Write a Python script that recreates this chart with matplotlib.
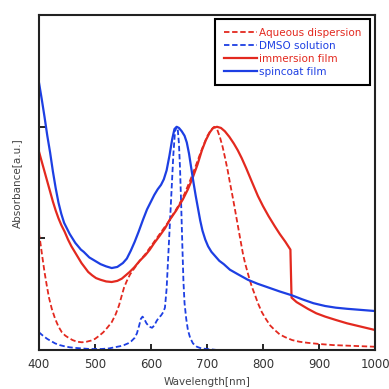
import numpy as np
import matplotlib.pyplot as plt

RED = '#e3291f'
BLUE = '#1d3fe3'

# aqueous dispersion (red dashed)
aq_wl = [400, 403, 406, 410, 414, 418, 423, 429, 435, 441, 447, 453, 460, 468, 477,
         485, 493, 500, 508, 515, 522, 530, 537, 543, 548, 552, 557, 563, 570, 580,
         590, 600, 610, 620, 630, 640, 650, 660, 670, 680, 688, 695, 701, 707, 713,
         718, 723, 728, 732, 737, 741, 746, 750, 755, 760, 764, 768, 774, 780, 786,
         791, 798, 805, 813, 821, 830, 840, 852, 865, 880, 900, 925, 950, 975, 1000]
aq_abs = [1.05, 0.95, 0.84, 0.70, 0.58, 0.47, 0.37, 0.28, 0.21, 0.16, 0.13, 0.11,
          0.09, 0.075, 0.07, 0.075, 0.085, 0.10, 0.13, 0.16, 0.20, 0.25, 0.32, 0.40,
          0.49, 0.56, 0.62, 0.68, 0.73, 0.80, 0.86, 0.93, 1.00, 1.07, 1.14, 1.22,
          1.30, 1.40, 1.52, 1.65, 1.76, 1.85, 1.92, 1.97, 2.00, 1.98, 1.91, 1.82,
          1.73, 1.61, 1.50, 1.37, 1.26, 1.12, 0.98, 0.87, 0.78, 0.67, 0.57, 0.49,
          0.42, 0.34, 0.28, 0.22, 0.18, 0.14, 0.115, 0.09, 0.075, 0.065, 0.055,
          0.045, 0.04, 0.035, 0.03]

# DMSO solution (blue dashed)
dmso_wl = [400, 407, 415, 422, 429, 437, 445, 455, 464, 477, 490, 512, 525, 535, 545,
           552, 559, 565, 571, 575, 579, 582, 585, 588, 592, 597, 602, 606, 610, 614,
           618, 622, 625, 628, 631, 634, 637, 640, 643, 646, 648, 650, 652, 654, 656,
           658, 660, 663, 666, 670, 675, 682, 690, 700, 720, 1000]
dmso_abs = [0.16, 0.13, 0.10, 0.08, 0.06, 0.045, 0.035, 0.025, 0.02, 0.015, 0.01,
            0.01, 0.015, 0.025, 0.035, 0.045, 0.06, 0.08, 0.11, 0.15, 0.22, 0.28,
            0.30, 0.28, 0.24, 0.21, 0.20, 0.22, 0.26, 0.29, 0.31, 0.34, 0.38, 0.55,
            0.85, 1.15, 1.45, 1.75, 1.96, 2.00, 1.97, 1.85, 1.62, 1.30, 0.95, 0.62,
            0.42, 0.28, 0.18, 0.11, 0.06, 0.03, 0.015, 0.01, 0.0, 0.0]

# immersion film (red solid)
imm_wl = [400, 405, 410, 415, 420, 425, 430, 435, 440, 446, 452, 458, 464, 470, 476,
          482, 488, 495, 502, 510, 520, 530, 540, 548, 555, 562, 570, 580, 590, 598,
          606, 615, 625, 634, 645, 657, 666, 675, 683, 691, 698, 705, 711, 718, 725,
          732, 740, 748, 755, 762, 770, 780, 791, 800, 810, 821, 830, 840, 849, 851,
          860, 870, 880, 895, 911, 930, 950, 975, 1000]
imm_abs = [1.78, 1.69, 1.60, 1.51, 1.42, 1.33, 1.25, 1.18, 1.12, 1.06, 0.99, 0.93,
           0.88, 0.83, 0.78, 0.74, 0.70, 0.67, 0.645, 0.63, 0.615, 0.61, 0.62, 0.64,
           0.67, 0.70, 0.74, 0.80, 0.85, 0.90, 0.96, 1.02, 1.09, 1.17, 1.25, 1.35,
           1.44, 1.55, 1.66, 1.79, 1.88, 1.95, 1.99, 2.00, 1.99, 1.96, 1.91, 1.85,
           1.79, 1.72, 1.63, 1.51, 1.38, 1.29, 1.20, 1.11, 1.04, 0.97, 0.90, 0.47,
           0.43, 0.40, 0.37, 0.33, 0.30, 0.27, 0.24, 0.21, 0.18]

# spincoat film (blue solid)
spin_wl = [400, 405, 410, 415, 420, 425, 430, 435, 440, 445, 450, 455, 460, 465, 470,
           475, 480, 490, 500, 510, 520, 530, 540, 550, 557, 564, 571, 578, 586, 593,
           600, 606, 612, 618, 623, 628, 633, 638, 642, 646, 650, 655, 660, 664, 668,
           672, 676, 680, 684, 688, 692, 697, 702, 708, 715, 722, 730, 741, 755, 773,
           790, 810, 830, 852, 870, 890, 911, 930, 950, 975, 1000]
spin_abs = [2.40, 2.25, 2.09, 1.92, 1.77, 1.60, 1.45, 1.32, 1.22, 1.14, 1.09, 1.04,
            1.00, 0.96, 0.93, 0.90, 0.88, 0.83, 0.80, 0.77, 0.75, 0.735, 0.745, 0.78,
            0.82, 0.89, 0.97, 1.06, 1.17, 1.26, 1.33, 1.39, 1.44, 1.48, 1.53, 1.61,
            1.74, 1.89, 1.98, 2.00, 1.99, 1.96, 1.92, 1.86, 1.76, 1.63, 1.50, 1.38,
            1.27, 1.16, 1.07, 0.99, 0.93, 0.88, 0.84, 0.80, 0.77, 0.72, 0.68, 0.63,
            0.595, 0.56, 0.525, 0.49, 0.455, 0.42, 0.395, 0.38, 0.37, 0.36, 0.35]

fig = plt.figure(figsize=(3.89, 3.89), dpi=100)
ax = fig.add_axes([0.100, 0.100, 0.864, 0.861])

ax.plot(aq_wl, aq_abs, color=RED, lw=1.3, ls=(0, (3, 1.5)), label='Aqueous dispersion')
ax.plot(dmso_wl, dmso_abs, color=BLUE, lw=1.3, ls=(0, (3, 1.5)), label='DMSO solution')
ax.plot(imm_wl, imm_abs, color=RED, lw=1.6, label='immersion film')
ax.plot(spin_wl, spin_abs, color=BLUE, lw=1.6, label='spincoat film')

ax.set_xlim(400, 1000)
ax.set_ylim(0, 3)
ax.set_xticks(np.arange(400, 1001, 100))
ax.set_yticks([1, 2])
ax.set_yticklabels([])
ax.tick_params(direction='in', length=4, width=1.2, labelsize=8.5,
               labelcolor='#333333', pad=6)
for s in ax.spines.values():
    s.set_linewidth(1.5)
    s.set_color('#222222')

ax.set_xlabel('Wavelength[nm]', fontsize=7.5, color='#444444', labelpad=4)
ax.set_ylabel('Absorbance[a.u.]', fontsize=7.5, color='#444444', labelpad=6)

leg = ax.legend(loc='upper right', bbox_to_anchor=(0.985, 0.988), borderaxespad=0,
                fontsize=7.5, labelcolor='linecolor', handlelength=3.2,
                handletextpad=0.2, labelspacing=0.3, borderpad=0.8,
                fancybox=False, framealpha=1)
leg.get_frame().set_edgecolor('black')
leg.get_frame().set_linewidth(1.5)

fig.savefig('out.png', dpi=100)
